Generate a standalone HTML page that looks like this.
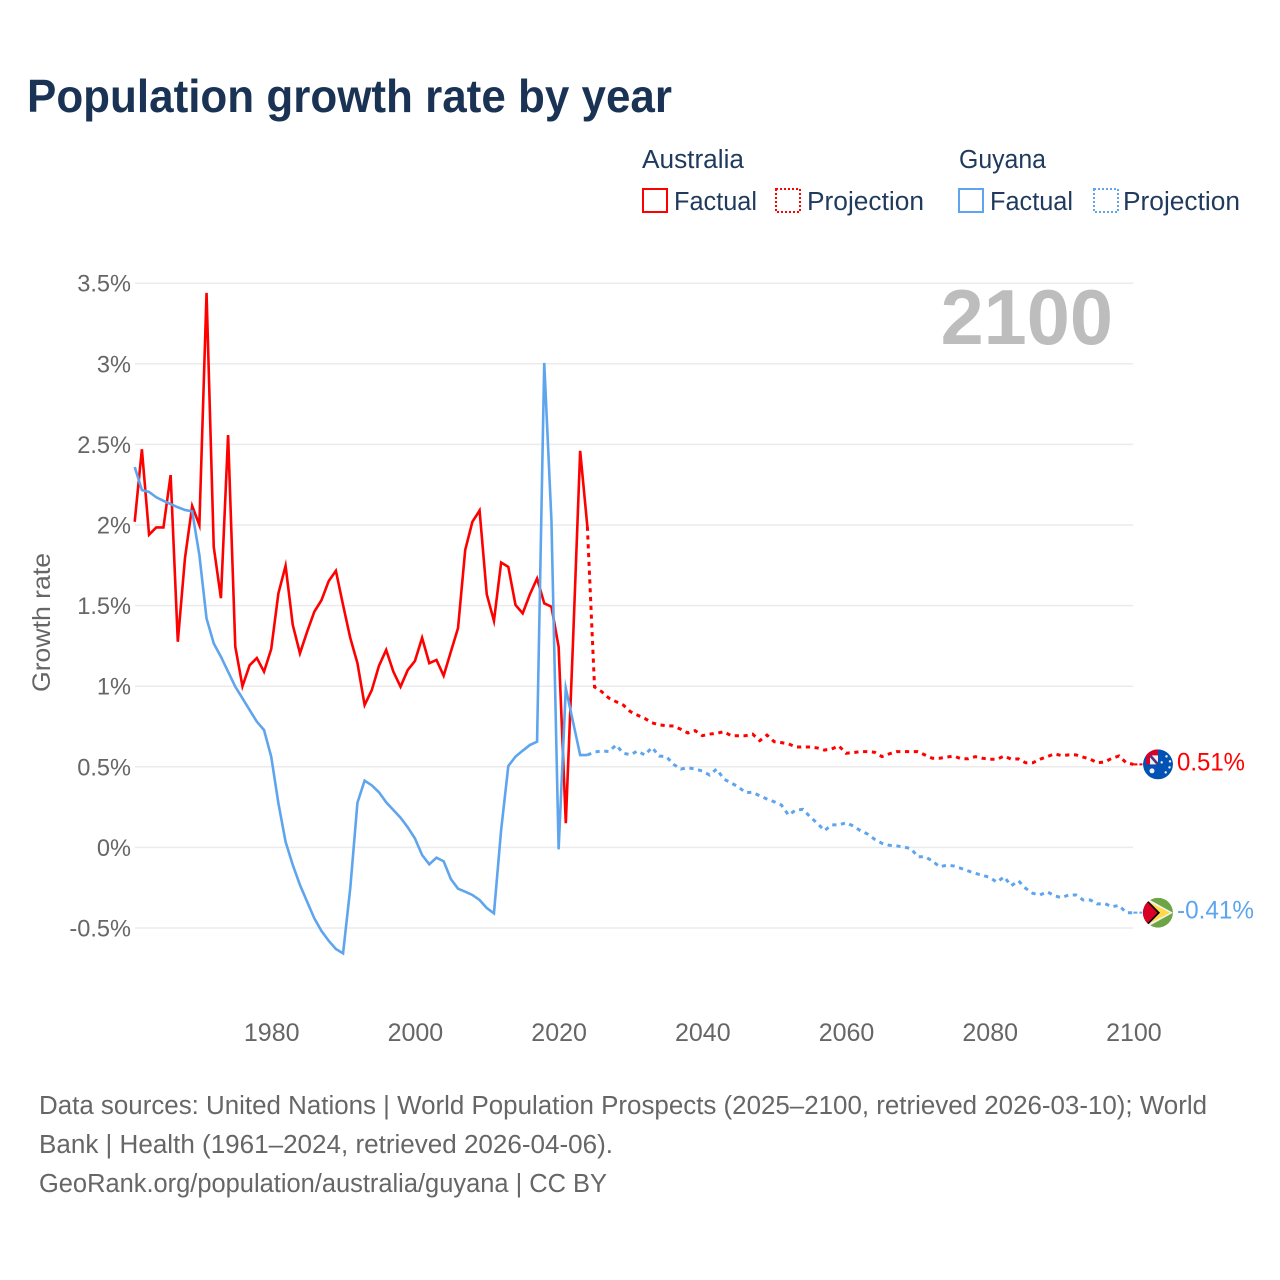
<!DOCTYPE html>
<html lang="en">
<head>
<meta charset="utf-8">
<title>Population growth rate by year</title>
<style>
html,body{margin:0;padding:0;background:#fff;}
svg{display:block;font-family:"Liberation Sans",sans-serif;}
</style>
</head>
<body>
<svg id="chart" xmlns="http://www.w3.org/2000/svg" width="1280" height="1280" viewBox="0 0 1280 1280">
  <rect x="0" y="0" width="1280" height="1280" fill="#fff"/>
  <text x="27" y="112" font-size="46" font-weight="700" fill="#1a3355" textLength="645" lengthAdjust="spacingAndGlyphs">Population growth rate by year</text>

  <g font-size="25.5" fill="#1f3a5c">
    <text x="642" y="168" textLength="102" lengthAdjust="spacingAndGlyphs">Australia</text>
    <rect x="643" y="189" width="24" height="23" fill="none" stroke="#ff0000" stroke-width="2"/>
    <text x="674" y="210" textLength="83" lengthAdjust="spacingAndGlyphs">Factual</text>
    <rect x="776" y="189" width="24" height="23" fill="none" stroke="#ff0000" stroke-width="2" stroke-dasharray="2 2"/>
    <text x="807" y="210" textLength="117" lengthAdjust="spacingAndGlyphs">Projection</text>
    <text x="959" y="168" textLength="87" lengthAdjust="spacingAndGlyphs">Guyana</text>
    <rect x="959" y="189" width="24" height="23" fill="none" stroke="#5ea5ee" stroke-width="2"/>
    <text x="990" y="210" textLength="83" lengthAdjust="spacingAndGlyphs">Factual</text>
    <rect x="1094" y="189" width="24" height="23" fill="none" stroke="#5ea5ee" stroke-width="2" stroke-dasharray="2 2"/>
    <text x="1123" y="210" textLength="117" lengthAdjust="spacingAndGlyphs">Projection</text>
  </g>

  <text transform="translate(50 622.5) rotate(-90)" text-anchor="middle" font-size="25" fill="#666" textLength="139" lengthAdjust="spacingAndGlyphs">Growth rate</text>

  <g id="grid"></g>
  <g id="yticks"></g>
  <g id="xticks"></g>

  <text x="1113" y="344" text-anchor="end" font-size="77.5" font-weight="700" fill="#bdbdbd">2100</text>

  <g id="series"></g>
  <g id="ends"></g>

  <defs>
    <clipPath id="flag-clip"><circle cx="0" cy="0" r="15"/></clipPath>
  </defs>

  <g id="flag-australia" clip-path="url(#flag-clip)">
    <circle cx="0" cy="0" r="15" fill="#0052b4"/>
    <rect x="-12" y="-15" width="12" height="15" fill="#d80027"/>
    <rect x="-8" y="-9" width="8" height="9" fill="#f0f0f0"/>
    <path d="M-8-9L0 0" stroke="#0052b4" stroke-width="2.6"/>
    <path d="M-8-9L0 0" stroke="#d80027" stroke-width="1"/>
    <circle cx="-6" cy="6.5" r="2.5" fill="#f0f0f0"/>
    <circle cx="3.7" cy="-2" r="1.2" fill="#f0f0f0"/>
    <circle cx="8.5" cy="-8" r="1.2" fill="#f0f0f0"/>
    <circle cx="12" cy="-3" r="1.2" fill="#f0f0f0"/>
    <circle cx="11.5" cy="3" r="1.2" fill="#f0f0f0"/>
    <circle cx="7.7" cy="8" r="1.2" fill="#f0f0f0"/>
  </g>

  <g id="flag-guyana" clip-path="url(#flag-clip)">
    <circle cx="0" cy="0" r="15" fill="#6da544"/>
    <path d="M-12-15L15 0L-12 15Z" fill="#f0f0f0"/>
    <path d="M-12-12.5L12 0L-12 12.5Z" fill="#ffda44"/>
    <path d="M-15-12L-10-12L2 0L-10 12L-15 12Z" fill="#000"/>
    <path d="M-15-11L-10-10L-0.5 0L-10 10L-15 11Z" fill="#d80027"/>
  </g>

  <g font-size="25.5" fill="#666">
    <text x="39" y="1114" textLength="1168" lengthAdjust="spacingAndGlyphs">Data sources: United Nations | World Population Prospects (2025–2100, retrieved 2026-03-10); World</text>
    <text x="39" y="1153" textLength="574" lengthAdjust="spacingAndGlyphs">Bank | Health (1961–2024, retrieved 2026-04-06).</text>
    <text x="39" y="1192" textLength="568" lengthAdjust="spacingAndGlyphs">GeoRank.org/population/australia/guyana | CC BY</text>
  </g>
</svg>

<script>
const factualStartYear = 1961;
const projectionStartYear = 2025;

const yTickValues = [3.5, 3, 2.5, 2, 1.5, 1, 0.5, 0, -0.5];
const yTickLabels = ["3.5%", "3%", "2.5%", "2%", "1.5%", "1%", "0.5%", "0%", "-0.5%"];
const xTickYears = [1980, 2000, 2020, 2040, 2060, 2080, 2100];
const xTickLabels = ["1980", "2000", "2020", "2040", "2060", "2080", "2100"];

const australiaFactual = [
  2.02, 2.47, 1.94, 1.985, 1.985, 2.31, 1.276, 1.795, 2.118, 2.0,
  3.44, 1.865, 1.546, 2.558, 1.245, 1.0, 1.13, 1.175, 1.09, 1.23,
  1.576, 1.747, 1.38, 1.204, 1.338, 1.462, 1.534, 1.652, 1.716, 1.504,
  1.3, 1.143, 0.883, 0.976, 1.127, 1.225, 1.09, 0.997, 1.1, 1.156,
  1.3, 1.143, 1.163, 1.065, 1.214, 1.36, 1.845, 2.02, 2.09, 1.57,
  1.405, 1.767, 1.74, 1.504, 1.452, 1.57, 1.668, 1.514, 1.493, 1.245,
  0.15, 1.27, 2.46, 1.99
];

const guyanaFactual = [
  2.36, 2.217, 2.205, 2.172, 2.15, 2.13, 2.11, 2.093, 2.085, 1.814,
  1.42, 1.266, 1.183, 1.09, 0.997, 0.925, 0.852, 0.78, 0.728, 0.563,
  0.274, 0.035, -0.109, -0.233, -0.337, -0.44, -0.519, -0.579, -0.63, -0.657,
  -0.254, 0.277, 0.414, 0.385, 0.342, 0.28, 0.232, 0.184, 0.125, 0.056,
  -0.047, -0.105, -0.064, -0.086, -0.196, -0.256, -0.275, -0.295, -0.326, -0.376,
  -0.409, 0.108, 0.505, 0.563, 0.6, 0.635, 0.656, 3.005, 2.03, -0.012,
  0.987, 0.78, 0.573, 0.573
];

const australiaProjection = [
  0.995, 0.966, 0.926, 0.904, 0.883, 0.842, 0.82, 0.8, 0.773, 0.76,
  0.755, 0.753, 0.733, 0.71, 0.724, 0.693, 0.703, 0.708, 0.718, 0.693,
  0.693, 0.693, 0.703, 0.662, 0.697, 0.656, 0.65, 0.642, 0.623, 0.623,
  0.623, 0.617, 0.604, 0.61, 0.63, 0.584, 0.588, 0.594, 0.594, 0.59,
  0.563, 0.58, 0.594, 0.594, 0.594, 0.594, 0.573, 0.553, 0.553, 0.56,
  0.567, 0.55, 0.55, 0.563, 0.553, 0.547, 0.547, 0.567, 0.547, 0.549,
  0.525, 0.525, 0.547, 0.563, 0.58, 0.57, 0.574, 0.574, 0.56, 0.547,
  0.525, 0.53, 0.553, 0.567, 0.525, 0.515
];

const guyanaProjection = [
  0.592, 0.598, 0.595, 0.635, 0.584, 0.575, 0.598, 0.573, 0.62, 0.567,
  0.563, 0.515, 0.486, 0.494, 0.486, 0.474, 0.449, 0.486, 0.424, 0.4,
  0.376, 0.34, 0.342, 0.32, 0.3, 0.283, 0.263, 0.2, 0.232, 0.236,
  0.19, 0.15, 0.104, 0.14, 0.139, 0.153, 0.133, 0.104, 0.083, 0.05,
  0.025, 0.013, 0.01, 0.002, -0.006, -0.058, -0.058, -0.083, -0.12, -0.111,
  -0.115, -0.13, -0.146, -0.161, -0.173, -0.186, -0.216, -0.182, -0.238, -0.207,
  -0.254, -0.285, -0.295, -0.275, -0.3, -0.312, -0.295, -0.295, -0.326, -0.326,
  -0.351, -0.348, -0.368, -0.36, -0.405, -0.405
];

const endLabels = ["0.51%", "-0.41%"];

const SVG_NS = "http://www.w3.org/2000/svg";
const RED = "#ff0000";
const BLUE = "#5ea5ee";

function xScale(year) { return 134.7 + (year - 1961) * 7.185; }
function yScale(value) { return 847.4 - value * 161.2; }

function mk(tag, attrs, parent) {
  const el = document.createElementNS(SVG_NS, tag);
  Object.keys(attrs).forEach(function (k) { el.setAttribute(k, attrs[k]); });
  parent.appendChild(el);
  return el;
}

function toPoints(startYear, values) {
  return values.map(function (v, i) {
    return xScale(startYear + i).toFixed(2) + "," + yScale(v).toFixed(2);
  }).join(" ");
}

const grid = document.getElementById("grid");
const yticks = document.getElementById("yticks");
const xticks = document.getElementById("xticks");
const series = document.getElementById("series");
const ends = document.getElementById("ends");

yTickValues.forEach(function (v, i) {
  const line = mk("line", { x1: 135, x2: 1133, y1: yScale(v), y2: yScale(v), stroke: "#ebebeb", "stroke-width": 1.5 }, grid);
  
  
  const label = mk("text", { x: 131, y: yScale(v) + 8.5, "text-anchor": "end", "font-size": 23.6, fill: "#666" }, yticks);
  
  
  label.textContent = yTickLabels[i];
});

xTickYears.forEach(function (year, i) {
  const label = mk("text", { x: xScale(year) + 0.5, y: 1041, "text-anchor": "middle", "font-size": 25, fill: "#666" }, xticks);
  
  
  label.textContent = xTickLabels[i];
});

function drawLine(startYear, values, color, dashed, name) {
  const line = mk("polyline", {
    points: toPoints(startYear, values),
    fill: "none",
    stroke: color,
    "stroke-width": dashed ? 3 : 2.6,
    "stroke-linejoin": "miter",
    "stroke-miterlimit": 10
  }, series);
  if (dashed) { line.setAttribute("stroke-dasharray", "4.2 4.6"); }
  
  
  return line;
}

const lastAu = australiaFactual[australiaFactual.length - 1];
const lastGy = guyanaFactual[guyanaFactual.length - 1];

drawLine(factualStartYear, australiaFactual, RED, false, "australia-factual-line");
drawLine(projectionStartYear - 1, [lastAu].concat(australiaProjection), RED, true, "australia-projection-line");
drawLine(factualStartYear, guyanaFactual, BLUE, false, "guyana-factual-line");
drawLine(projectionStartYear - 1, [lastGy].concat(guyanaProjection), BLUE, true, "guyana-projection-line");

function drawEnd(values, color, flagId, text, lineName, labelName, labelWidth) {
  const v = values[values.length - 1];
  const x = xScale(2100);
  const y = yScale(v);
  const conn = mk("line", { x1: x, x2: x + 9, y1: y, y2: y, stroke: color, "stroke-width": 2, "stroke-dasharray": "4 2" }, ends);
  
  
  document.getElementById(flagId).setAttribute("transform", "translate(1158 " + y.toFixed(2) + ")");
  const label = mk("text", { x: 1177, y: y + 6, "font-size": 25, fill: color, textLength: labelWidth, lengthAdjust: "spacingAndGlyphs" }, ends);
  
  
  label.textContent = text;
}

drawEnd(australiaProjection, RED, "flag-australia", endLabels[0], "australia-end-connector", "australia-end-label", 68);
drawEnd(guyanaProjection, BLUE, "flag-guyana", endLabels[1], "guyana-end-connector", "guyana-end-label", 77);
</script>
</body>
</html>
